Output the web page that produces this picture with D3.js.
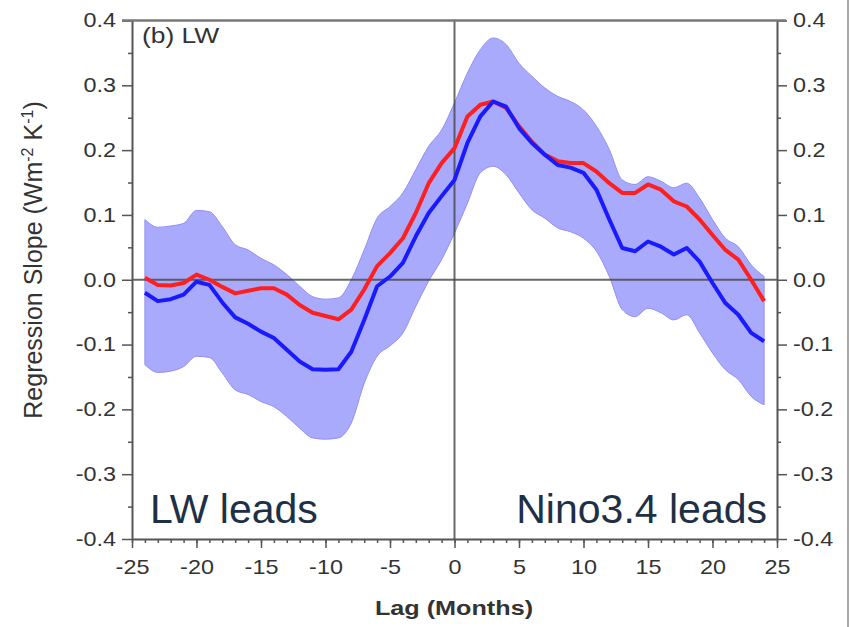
<!DOCTYPE html>
<html>
<head>
<meta charset="utf-8">
<script src="https://cdn.jsdelivr.net/npm/d3@7"></script>
<style>
  body { margin: 0; background: #fff; }
  svg, svg text { font-family: "Liberation Sans", Arial, sans-serif; }
  .stretch { transform-box: fill-box; }
</style>
</head>
<body>
<svg id="chart" width="850" height="627"></svg>
<script>
// lag in months
var lags = d3.range(-24, 25)

// red line (observations)
var redVals = [0.003, -0.008, -0.009, -0.005, 0.008, 0.0, -0.011, -0.021, -0.017, -0.013,
  -0.013, -0.023, -0.039, -0.051, -0.056, -0.061, -0.046, -0.015, 0.021, 0.041,
  0.064, 0.103, 0.149, 0.18, 0.203, 0.252, 0.27, 0.275, 0.265, 0.237,
  0.213, 0.193, 0.183, 0.18, 0.18, 0.167, 0.149, 0.134, 0.134, 0.147,
  0.139, 0.121, 0.113, 0.093, 0.069, 0.046, 0.031, 0.0, -0.033]

// blue line (model mean)
var blueVals = [-0.02, -0.033, -0.03, -0.023, -0.003, -0.008, -0.035, -0.058, -0.068, -0.08,
  -0.09, -0.108, -0.126, -0.138, -0.139, -0.138, -0.111, -0.062, -0.01, 0.005,
  0.026, 0.067, 0.103, 0.129, 0.154, 0.211, 0.252, 0.275, 0.267, 0.234,
  0.211, 0.193, 0.177, 0.173, 0.165, 0.139, 0.093, 0.049, 0.044, 0.059,
  0.051, 0.039, 0.049, 0.028, -0.005, -0.036, -0.054, -0.082, -0.095]

// model spread
var upperVals = [0.093, 0.081, 0.083, 0.087, 0.107, 0.105, 0.082, 0.054, 0.046, 0.033,
  0.023, 0.008, -0.01, -0.026, -0.03, -0.028, 0.0, 0.046, 0.095, 0.113,
  0.134, 0.17, 0.206, 0.231, 0.273, 0.319, 0.355, 0.373, 0.363, 0.334,
  0.314, 0.296, 0.283, 0.275, 0.262, 0.237, 0.201, 0.154, 0.147, 0.159,
  0.152, 0.142, 0.149, 0.126, 0.093, 0.064, 0.051, 0.023, 0.005]
var lowerVals = [-0.131, -0.143, -0.141, -0.134, -0.118, -0.12, -0.144, -0.17, -0.177, -0.188,
  -0.196, -0.211, -0.229, -0.244, -0.246, -0.244, -0.221, -0.16, -0.118, -0.102,
  -0.082, -0.041, -0.002, 0.031, 0.072, 0.118, 0.165, 0.175, 0.162, 0.134,
  0.108, 0.095, 0.08, 0.074, 0.064, 0.044, 0.005, -0.046, -0.057, -0.044,
  -0.051, -0.062, -0.054, -0.082, -0.113, -0.139, -0.154, -0.18, -0.193]

var xTicks = [-25, -20, -15, -10, -5, 0, 5, 10, 15, 20, 25]
var yTicks = [-0.4, -0.3, -0.2, -0.1, 0.0, 0.1, 0.2, 0.3, 0.4]

var dimensions = {
  width: 850,
  height: 627,
  margin: { top: 20.5, bottom: 88, right: 73, left: 132 }
}
dimensions.boundedWidth = dimensions.width - dimensions.margin.left - dimensions.margin.right
dimensions.boundedHeight = dimensions.height - dimensions.margin.top - dimensions.margin.bottom

var svg = d3.select("#chart")

var bounds = svg.append("g")
  .attr("transform", "translate(" + dimensions.margin.left + "," + dimensions.margin.top + ")")

var xScale = d3.scaleLinear().domain([-25, 25]).range([0, dimensions.boundedWidth])
var yScale = d3.scaleLinear().domain([-0.4, 0.4]).range([dimensions.boundedHeight, 0])

var data = lags.map(function (l, i) {
  return { lag: l, red: redVals[i], blue: blueVals[i], up: upperVals[i], lo: lowerVals[i] }
})

// the source figure is a bit wider than tall, so text is stretched sideways
function stretch(sel, sx, origin) {
  sel.classed("stretch", true)
    .style("transform-origin", origin)
    .style("transform", "scaleX(" + sx + ")")
}

// shaded band
var area = d3.area()
  .x(function (d) { return xScale(d.lag) })
  .y0(function (d) { return yScale(d.lo) })
  .y1(function (d) { return yScale(d.up) })
  .curve(d3.curveMonotoneX)

bounds.append("path")
  .datum(data)
  .attr("d", area)
  .attr("fill", "#aaaafd")
  .attr("stroke", "#8f8ff5")
  .attr("stroke-width", 1)

// zero lines
bounds.append("line")
  .attr("x1", 0).attr("x2", dimensions.boundedWidth)
  .attr("y1", yScale(0)).attr("y2", yScale(0))
  .attr("stroke", "#444").attr("stroke-opacity", 0.8).attr("stroke-width", 2)
bounds.append("line")
  .attr("x1", xScale(0)).attr("x2", xScale(0))
  .attr("y1", 0).attr("y2", dimensions.boundedHeight)
  .attr("stroke", "#444").attr("stroke-opacity", 0.8).attr("stroke-width", 2)

function lineFor(key) {
  return d3.line()
    .x(function (d) { return xScale(d.lag) })
    .y(function (d) { return yScale(d[key]) })
}

bounds.append("path")
  .datum(data)
  .attr("d", lineFor("red"))
  .attr("fill", "none")
  .attr("stroke", "#ff1f1f")
  .attr("stroke-width", 4)
  .attr("stroke-linejoin", "round")

bounds.append("path")
  .datum(data)
  .attr("d", lineFor("blue"))
  .attr("fill", "none")
  .attr("stroke", "#1a1aff")
  .attr("stroke-width", 4)
  .attr("stroke-linejoin", "round")

// axes: minor ticks first, then major with labels
var axisColor = "#555"

function styleAxis(g) {
  g.attr("font-family", null).attr("font-size", null)
  g.selectAll("path").attr("stroke", axisColor).attr("stroke-width", 2)
  g.selectAll("line").attr("stroke", axisColor).attr("stroke-width", 1.5)
  g.selectAll("text").attr("fill", "#333").style("font-size", "20px")
}

function minor(g) {
  g.select("path").remove()
  g.selectAll("line").attr("stroke", axisColor).attr("stroke-width", 1.5)
}

var xMinor = bounds.append("g")
  .attr("transform", "translate(0," + dimensions.boundedHeight + ")")
  .call(d3.axisBottom(xScale).tickValues(d3.range(-25, 26)).tickSize(4).tickFormat(""))
minor(xMinor)

var xAxis = bounds.append("g")
  .attr("transform", "translate(0," + dimensions.boundedHeight + ")")
  .call(d3.axisBottom(xScale).tickValues(xTicks).tickSize(9).tickSizeOuter(0).tickPadding(12)
    .tickFormat(function (d) { return String(d) }))
styleAxis(xAxis)
stretch(xAxis.selectAll("text"), 1.17, "center")

var yMinorVals = d3.range(-0.35, 0.4, 0.1)
var yFmt = function (d) { return d.toFixed(1) }

var yMinorL = bounds.append("g")
  .call(d3.axisLeft(yScale).tickValues(yMinorVals).tickSize(4).tickFormat(""))
minor(yMinorL)

var yAxisL = bounds.append("g")
  .call(d3.axisLeft(yScale).tickValues(yTicks).tickSize(10).tickSizeOuter(0).tickPadding(6)
    .tickFormat(yFmt))
styleAxis(yAxisL)
stretch(yAxisL.selectAll("text"), 1.17, "right center")

var yMinorR = bounds.append("g")
  .attr("transform", "translate(" + dimensions.boundedWidth + ",0)")
  .call(d3.axisRight(yScale).tickValues(yMinorVals).tickSize(4).tickFormat(""))
minor(yMinorR)

var yAxisR = bounds.append("g")
  .attr("transform", "translate(" + dimensions.boundedWidth + ",0)")
  .call(d3.axisRight(yScale).tickValues(yTicks).tickSize(10).tickSizeOuter(0).tickPadding(6)
    .tickFormat(yFmt))
styleAxis(yAxisR)
stretch(yAxisR.selectAll("text"), 1.17, "left center")

// top frame
bounds.append("line")
  .attr("x1", -10).attr("x2", dimensions.boundedWidth + 9)
  .attr("y1", 0).attr("y2", 0)
  .attr("stroke", "#777").attr("stroke-width", 2.5)

// texts
var panel = bounds.append("text")
  .attr("x", 10).attr("y", 22.5)
  .attr("fill", "#333")
  .style("font-size", "22px")
  .text("(b) LW")
stretch(panel, 1.2, "left center")

bounds.append("text")
  .attr("x", 18).attr("y", dimensions.boundedHeight - 16)
  .attr("fill", "#1e3046")
  .style("font-size", "41px")
  .text("LW leads")

bounds.append("text")
  .attr("x", dimensions.boundedWidth - 10).attr("y", dimensions.boundedHeight - 16)
  .attr("text-anchor", "end")
  .attr("fill", "#1e3046")
  .style("font-size", "41px")
  .text("Nino3.4 leads")

var xLabel = svg.append("text")
  .attr("x", 454).attr("y", 615)
  .attr("text-anchor", "middle")
  .attr("fill", "#333")
  .style("font-size", "21px")
  .style("font-weight", "bold")
  .text("Lag (Months)")
stretch(xLabel, 1.2, "center")

var yLabel = svg.append("text")
  .attr("transform", "translate(42,260) rotate(-90)")
  .attr("text-anchor", "middle")
  .attr("fill", "#333")
  .style("font-size", "25px")
yLabel.append("tspan").text("Regression Slope (Wm")
yLabel.append("tspan").attr("dy", -9).style("font-size", "16px").text("-2")
yLabel.append("tspan").attr("dy", 9).text(" K")
yLabel.append("tspan").attr("dy", -9).style("font-size", "16px").text("-1")
yLabel.append("tspan").attr("dy", 9).text(")")

// image border on the right
svg.append("line")
  .attr("x1", 848).attr("x2", 848).attr("y1", 0).attr("y2", dimensions.height)
  .attr("stroke", "#aaa").attr("stroke-width", 2)
</script>
</body>
</html>
